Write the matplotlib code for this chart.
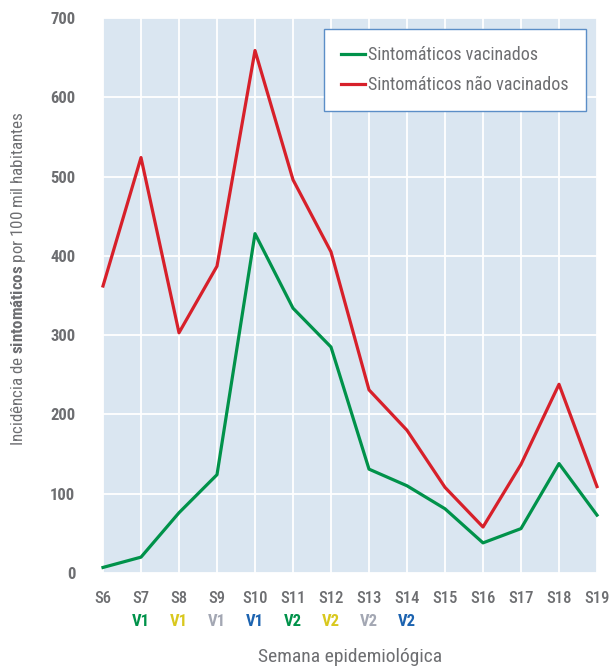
import matplotlib
matplotlib.use("Agg")
import matplotlib.pyplot as plt
from matplotlib import font_manager as fm

weeks = ["S6", "S7", "S8", "S9", "S10", "S11", "S12", "S13", "S14", "S15", "S16", "S17", "S18", "S19"]
vaccinated = [7, 20, 76, 124, 428, 334, 285, 131, 110, 81, 38, 56, 138, 73]
unvaccinated = [362, 524, 303, 387, 659, 496, 405, 231, 180, 108, 58, 137, 238, 109]
dose_labels = ["V1", "V1", "V1", "V1", "V2", "V2", "V2", "V2"]
dose_weeks = ["S7", "S8", "S9", "S10", "S11", "S12", "S13", "S14"]
dose_colors = ["#00924a", "#d9c81e", "#a3a7b3", "#1c63b0", "#00924a", "#d9c81e", "#a3a7b3", "#1c63b0"]


def pick_condensed_font():
    candidates = ["Roboto Condensed", "Barlow Condensed", "Barlow Semi Condensed", "Archivo Narrow",
                  "PT Sans Narrow", "Encode Sans Condensed", "Fira Sans Condensed",
                  "IBM Plex Sans Condensed", "Asap Condensed", "Saira Condensed",
                  "Open Sans Condensed", "Liberation Sans Narrow"]
    weights = {}
    for f in fm.fontManager.ttflist:
        if f.style == "normal" and "[" not in f.fname:
            weights.setdefault(f.name, set()).add(f.weight)
    for name in candidates:
        w = weights.get(name, set())
        if 400 in w and 700 in w:
            return name
    return "DejaVu Sans"


FONT = pick_condensed_font()
plt.rcParams["font.family"] = [FONT, "DejaVu Sans"]
plt.rcParams["mathtext.fontset"] = "custom"
plt.rcParams["mathtext.rm"] = FONT
plt.rcParams["mathtext.bf"] = FONT + ":bold"

grey = "#6d6e71"
fig = plt.figure(figsize=(6.09, 6.69), dpi=100)
ax = fig.add_axes([103 / 609, 1 - 573 / 669, (597 - 103) / 609, (573 - 18) / 669])
ax.set_facecolor("#dae6f1")
x = list(range(len(weeks)))
ax.plot(x, vaccinated, color="#00924a", lw=2.3, label="Sintomáticos vacinados", clip_on=False, zorder=3)
ax.plot(x, unvaccinated, color="#d7202a", lw=2.3, label="Sintomáticos não vacinados", clip_on=False, zorder=3)

ax.set_xlim(0.05, len(weeks) - 1)
ax.set_ylim(0, 700)
ax.set_yticks(range(0, 701, 100))
ax.set_xticks(x)
ax.set_xticklabels(weeks)
ax.grid(True, color="white", lw=1.3)
ax.set_axisbelow(True)
for s in ax.spines.values():
    s.set_visible(False)
ax.tick_params(length=0)
ax.tick_params(axis="y", pad=20, labelsize=12, labelcolor=grey)
ax.tick_params(axis="x", pad=13, labelsize=12, labelcolor=grey)
for t in ax.get_yticklabels():
    t.set_fontweight("bold")
for t in ax.get_xticklabels():
    t.set_fontweight("medium")

for lab, wk, col in zip(dose_labels, dose_weeks, dose_colors):
    ax.annotate(lab, xy=(weeks.index(wk), 0), xycoords=("data", "axes fraction"),
                xytext=(0, -49), textcoords="offset pixels", ha="center", va="center",
                color=col, fontsize=12, fontweight="bold")

ax.annotate("Semana epidemiológica", xy=(0.5, 0), xycoords="axes fraction",
            xytext=(0, -84), textcoords="offset pixels", ha="center", va="center",
            color=grey, fontsize=14)
fig.text(19 / 609, 1 - 279 / 669, r"Incidência de $\mathbf{sintomáticos}$ por 100 mil habitantes",
         rotation=90, ha="center", va="center", color=grey, fontsize=12.2)

leg = ax.legend(loc="upper right", bbox_to_anchor=((586 - 103) / 494, (573 - 29) / 555),
                frameon=True, fancybox=False, fontsize=13, handlelength=1.3, handletextpad=0.2,
                borderpad=0.95, labelspacing=0.65, borderaxespad=0)
leg.get_frame().set_edgecolor("#5b8ec7")
leg.get_frame().set_linewidth(1.0)
leg.get_frame().set_alpha(1)
for t in leg.get_texts():
    t.set_color(grey)

fig.savefig("out.png", dpi=100)
